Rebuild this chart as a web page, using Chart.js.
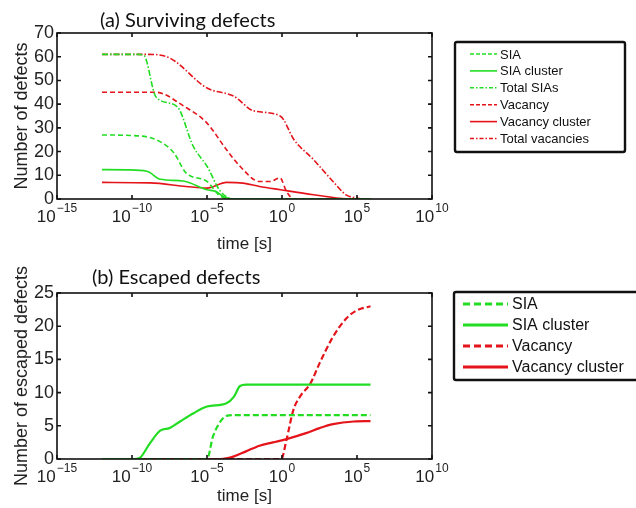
<!DOCTYPE html>
<html lang="en">
<head>
<meta charset="UTF-8">
<title>Surviving and escaped defects</title>
<script src="https://cdn.jsdelivr.net/npm/chart.js"></script>
<style>
  body { margin: 0; background: #fff; }
  #wrap { position: relative; width: 636px; height: 508px; overflow: hidden; background: #fff; }
  canvas { position: absolute; left: 0; }
  .ttl { position: absolute; font-family: Lato, 'Open Sans', sans-serif; font-size: 20px; line-height: 24px; color: #111; white-space: nowrap; z-index: 2; }
</style>
</head>
<body>
<div id="wrap">
  <div class="ttl" style="left:100px; top:7px;">(a) Surviving defects</div>
  <div class="ttl" style="left:92px; top:264px;">(b) Escaped defects</div>
  <canvas id="top" width="636" height="256" style="top:0"></canvas>
  <canvas id="bot" width="636" height="252" style="top:256px"></canvas>
</div>
<script>
// time is kept as log10(t / s)
// (a) surviving defects
const siaT      = [-12, -10.1, -8.4, -7.2, -6.4, -5.0, -4.1, -3.2, 5.9];
const siaN      = [27, 26.8, 25, 19.4, 11, 7.4, 1.1, 0, 0];
const siaClT    = [-12, -10.3, -9.0, -8.1, -6.6, -5.0, -4.4, -3.9, -3.2, 5.9];
const siaClN    = [12.4, 12.3, 11.7, 8.3, 7.6, 3.9, 3.2, 1.0, 0, 0];
const totSiaT   = [-12, -9.6, -9.2, -8.4, -7.0, -5.9, -5.0, -4.1, -3.2, 5.9];
const totSiaN   = [61, 61, 60.5, 43, 39, 22, 13.8, 3.2, 0, 0];
const vacT      = [-12, -8.4, -6.6, -5.0, -3.7, -2.8, -1.5, -0.8, -0.13, 0.3, 0.8, 5.9];
const vacN      = [45, 45, 39.4, 32, 20.8, 13.8, 7.4, 7.4, 8.9, 3.2, 0, 0];
const vacClT    = [-12, -8.8, -6.4, -5.0, -3.7, -2.6, -1.5, -0.1, 2.1, 4.3, 5.9];
const vacClN    = [7, 6.8, 5.3, 4.6, 7, 6.7, 5.3, 3.9, 1.8, 0.1, 0];
const totVacT   = [-12, -9, -7.5, -5.0, -3.2, -1.9, -0.1, 0.8, 2.1, 3.4, 4.3, 4.8, 5.3, 5.9];
const totVacN   = [61, 61, 59.5, 46.8, 43.3, 37.2, 34.9, 25, 16.6, 7.4, 1.6, 0.6, 0, 0];

// (b) escaped defects
const escSiaT   = [-12, -5.0, -4.6, -4.1, -3.7, -3.2, 5.9];
const escSiaN   = [0, 0, 3.4, 5.65, 6.5, 6.6, 6.6];
const escSiaClT = [-12, -9.9, -9.5, -8.8, -8.1, -7.5, -6.8, -5.9, -5.0, -3.7, -3.2, -2.8, -2.4, 5.9];
const escSiaClN = [0, 0, 0.15, 2.4, 4.3, 4.65, 5.65, 6.9, 7.9, 8.4, 9.4, 11, 11.2, 11.2];
const escVacT   = [-12, -0.05, 0.3, 0.76, 1.2, 1.9, 2.5, 3.4, 4.3, 5.0, 5.9];
const escVacN   = [0, 0, 2.9, 7.4, 9.4, 11.4, 14.4, 18.4, 21.2, 22.4, 23];
const escVacClT = [-12, -4.1, -3.2, -2.4, -1.5, -0.6, 0.3, 1.6, 2.5, 3.4, 4.8, 5.9];
const escVacClN = [0, 0, 0.4, 1.15, 2, 2.5, 3, 3.9, 4.65, 5.25, 5.65, 5.7];

const xTicks = [-15, -10, -5, 0, 5, 10];

const GREEN = '#22dd22', RED = '#e4141a';
const AX = "'Liberation Sans', Arial, sans-serif";

function pts(t, n) { return t.map((v, i) => ({x: v, y: n[i]})); }

function ds(label, t, n, color, dash, w) {
  return { label, data: pts(t, n), borderColor: color, backgroundColor: color, borderDash: dash,
           borderWidth: w, pointRadius: 0, tension: 0.4, cubicInterpolationMode: 'monotone', fill: false };
}

// legend boxes, kept out of the chart options so functions aren't resolved as scriptable
const legends = {
  top: { x: 455, y: 42, w: 170, h: 110, row0: 54, step: 16.9, s0: 470, s1: 497, tx: 500, size: 13, lw: 1.6,
         dash: d => d.length ? (d.length === 2 ? [4, 2] : [4, 2, 1.5, 2]) : [] },
  bot: { x: 454, y: 36, w: 190, h: 88, row0: 48, step: 21, s0: 463, s1: 508, tx: 512, size: 16, lw: 3,
         dash: d => d.length ? [7, 4] : [] }
};

// box, inward ticks, 10^n labels and legend
const framePlugin = {
  id: 'frame',
  afterDatasetsDraw(chart) {
    const {ctx, chartArea: a, scales: {x, y}} = chart;
    ctx.save();
    ctx.strokeStyle = '#111';
    ctx.lineWidth = 1.6;
    ctx.strokeRect(a.left, a.top, a.right - a.left, a.bottom - a.top);
    ctx.beginPath();
    x.ticks.forEach(t => {
      const px = x.getPixelForValue(t.value);
      ctx.moveTo(px, a.bottom); ctx.lineTo(px, a.bottom - 4);
      ctx.moveTo(px, a.top); ctx.lineTo(px, a.top + 4);
    });
    y.ticks.forEach(t => {
      const py = y.getPixelForValue(t.value);
      ctx.moveTo(a.left, py); ctx.lineTo(a.left + 4, py);
      ctx.moveTo(a.right, py); ctx.lineTo(a.right - 4, py);
    });
    ctx.stroke();
    ctx.fillStyle = '#222';
    ctx.textBaseline = 'alphabetic';
    ctx.textAlign = 'left';
    xTicks.forEach(v => {
      const px = x.getPixelForValue(v);
      const e = String(v).replace('-', '\u2212');
      ctx.font = '17px ' + AX;
      const wb = ctx.measureText('10').width;
      ctx.font = '12px ' + AX;
      const we = ctx.measureText(e).width;
      const x0 = px - (wb + 1 + we) / 2;
      ctx.font = '17px ' + AX;
      ctx.fillText('10', x0, a.bottom + 23);
      ctx.font = '12px ' + AX;
      ctx.fillText(e, x0 + wb + 1, a.bottom + 13);
    });

    const L = legends[chart.canvas.id];
    ctx.strokeStyle = '#111';
    ctx.lineWidth = 2.4;
    ctx.beginPath();
    ctx.roundRect(L.x, L.y, L.w, L.h, 2);
    ctx.stroke();
    ctx.font = L.size + 'px ' + AX;
    ctx.textBaseline = 'middle';
    chart.data.datasets.forEach((d, i) => {
      const cy = L.row0 + i * L.step;
      ctx.strokeStyle = d.borderColor;
      ctx.lineWidth = L.lw;
      ctx.setLineDash(L.dash(d.borderDash));
      ctx.beginPath();
      ctx.moveTo(L.s0, cy); ctx.lineTo(L.s1, cy);
      ctx.stroke();
      ctx.setLineDash([]);
      ctx.fillStyle = '#111';
      ctx.fillText(d.label, L.tx, cy + 1);
    });
    ctx.restore();
  }
};

function makeChart(id, datasets, yMax, yStep, yTitle, padTop, xH) {
  return new Chart(document.getElementById(id), {
    type: 'line',
    data: { datasets },
    options: {
      responsive: false,
      animation: false,
      layout: { padding: { left: 0, right: 204, top: padTop, bottom: 0 } },
      plugins: { legend: { display: false }, tooltip: { enabled: false } },
      scales: {
        x: {
          type: 'linear', min: -15, max: 10,
          ticks: { display: false, stepSize: 5 },
          grid: { display: false, drawTicks: false },
          border: { display: false },
          title: { display: true, text: 'time [s]', color: '#222', font: { size: 17, family: AX }, padding: { top: 1, bottom: 1 } },
          afterFit: s => { s.height = xH; }
        },
        y: {
          min: 0, max: yMax,
          ticks: { stepSize: yStep, autoSkip: false, color: '#222', padding: 3, font: { size: 18, family: AX } },
          grid: { display: false, drawTicks: false },
          border: { display: false },
          title: { display: true, text: yTitle, color: '#222', font: { size: 18, family: AX }, padding: { top: 11, bottom: 0 } },
          afterFit: s => { s.width = 57; }
        }
      }
    },
    plugins: [framePlugin]
  });
}

const DASH = [5, 3], DOTDASH = [6, 2, 1.5, 2];

makeChart('top', [
  ds('SIA', siaT, siaN, GREEN, DASH, 1.6),
  ds('SIA cluster', siaClT, siaClN, GREEN, [], 1.6),
  ds('Total SIAs', totSiaT, totSiaN, GREEN, DOTDASH, 1.6),
  ds('Vacancy', vacT, vacN, RED, DASH, 1.6),
  ds('Vacancy cluster', vacClT, vacClN, RED, [], 1.6),
  ds('Total vacancies', totVacT, totVacN, RED, DOTDASH, 1.6)
], 70, 10, 'Number of defects', 33, 57);

makeChart('bot', [
  ds('SIA', escSiaT, escSiaN, GREEN, [6, 3], 2.2),
  ds('SIA cluster', escSiaClT, escSiaClN, GREEN, [], 2.2),
  ds('Vacancy', escVacT, escVacN, RED, [6, 3], 2.2),
  ds('Vacancy cluster', escVacClT, escVacClN, RED, [], 2.2)
], 25, 5, 'Number of escaped defects', 37, 49);
</script>
</body>
</html>
